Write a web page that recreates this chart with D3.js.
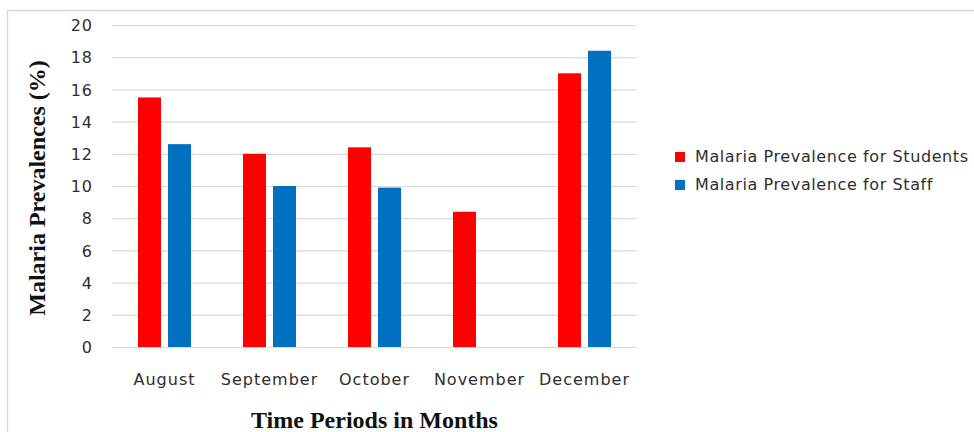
<!DOCTYPE html>
<html>
<head>
<meta charset="utf-8">
<script src="https://cdn.jsdelivr.net/npm/d3@7/dist/d3.min.js"></script>
<style>
  html, body { margin: 0; padding: 0; background: #fff; }
  svg { display: block; }
  .tick-label { font-family: "DejaVu Sans", Verdana, sans-serif; font-size: 16px; fill: #2e2e2e; letter-spacing: 1px; }
  .legend-label { font-family: "DejaVu Sans", Verdana, sans-serif; font-size: 16px; fill: #2e2e2e; letter-spacing: 0.6px; }
  .axis-title { font-family: "Liberation Serif", "Times New Roman", serif; font-size: 24px; font-weight: bold; fill: #111; }
</style>
</head>
<body>
<div class="page"></div>
<script>
var months = ["August", "September", "October", "November", "December"];
var studentValues = [15.5, 12.0, 12.4, 8.4, 17.0];
var staffValues = [12.6, 10.0, 9.9, null, 18.4];
var seriesNames = ["Malaria Prevalence for Students", "Malaria Prevalence for Staff"];
var seriesColors = ["#ff0000", "#0070c0"];
var yTicks = [0, 2, 4, 6, 8, 10, 12, 14, 16, 18, 20];

var w = 974, h = 432;
var plot = {left: 112, right: 637, top: 25, bottom: 347};

var svg = d3.select(".page").append("svg")
  .attr("xmlns", "http://www.w3.org/2000/svg")
  .attr("width", w)
  .attr("height", h);

// Chart area border, right and bottom edges run off the picture
svg.append("rect")
  .attr("x", 7.5)
  .attr("y", 10.5)
  .attr("width", w + 20)
  .attr("height", h + 20)
  .attr("fill", "none")
  .attr("stroke", "#d9d9d9")
  .attr("stroke-width", 1.5);

var y = d3.scaleLinear()
  .domain([0, 20])
  .range([plot.bottom, plot.top]);

var x0 = d3.scaleBand()
  .domain(months)
  .range([plot.left, plot.right])
  .paddingInner(0.495)
  .paddingOuter(0.2475);

var x1 = d3.scaleBand()
  .domain([0, 1])
  .range([0, x0.bandwidth()])
  .paddingInner(0.233);

// Gridlines and tick labels from an axis
var yAxis = svg.append("g")
  .attr("transform", "translate(" + plot.left + ",0)")
  .call(d3.axisLeft(y).tickValues(yTicks).tickSize(-(plot.right - plot.left)).tickPadding(19));

yAxis.select(".domain").remove();
yAxis.selectAll(".tick line")
  .attr("stroke", "#d9d9d9")
  .attr("stroke-width", 1.2);
yAxis.selectAll(".tick text")
  .attr("class", "tick-label")
  .attr("fill", null)
  .attr("dy", "0.36em");
yAxis.attr("font-size", null).attr("font-family", null);

// Bars, one group per month
var rows = months.map(function(m, i) {
  return {month: m, values: [studentValues[i], staffValues[i]]};
});

var groups = svg.selectAll("g.month")
  .data(rows)
  .enter()
  .append("g")
  .attr("class", "month")
  .attr("transform", function(d) { return "translate(" + x0(d.month) + ",0)"; });

groups.selectAll("rect")
  .data(function(d) {
    return d.values.map(function(v, k) { return {k: k, v: v}; })
      .filter(function(e) { return e.v != null; });
  })
  .enter()
  .append("rect")
  .attr("x", function(d) { return x1(d.k); })
  .attr("y", function(d) { return y(d.v); })
  .attr("width", x1.bandwidth())
  .attr("height", function(d) { return y(0) - y(d.v); })
  .attr("fill", function(d) { return seriesColors[d.k]; });

// Month labels
var xAxis = svg.append("g")
  .attr("transform", "translate(0," + plot.bottom + ")")
  .call(d3.axisBottom(x0).tickSize(0).tickPadding(0));

xAxis.select(".domain").remove();
xAxis.attr("font-size", null).attr("font-family", null);
xAxis.selectAll(".tick text")
  .attr("class", "tick-label")
  .attr("fill", null)
  .attr("dy", null)
  .attr("y", 38);

// Axis titles
svg.append("text")
  .attr("class", "axis-title")
  .attr("text-anchor", "middle")
  .attr("transform", "translate(45," + ((plot.top + plot.bottom) / 2 + 2) + ") rotate(-90)")
  .text("Malaria Prevalences (%)");

svg.append("text")
  .attr("class", "axis-title")
  .attr("text-anchor", "middle")
  .attr("x", (plot.left + plot.right) / 2)
  .attr("y", 428)
  .text("Time Periods in Months");

// Legend
var legend = svg.selectAll("g.legend")
  .data(seriesNames)
  .enter()
  .append("g")
  .attr("class", "legend")
  .attr("transform", function(d, i) { return "translate(675," + (152 + i * 28) + ")"; });

legend.append("rect")
  .attr("width", 10)
  .attr("height", 10)
  .attr("fill", function(d, i) { return seriesColors[i]; });

legend.append("text")
  .attr("class", "legend-label")
  .attr("x", 20)
  .attr("y", 10)
  .text(function(d) { return d; });
</script>
</body>
</html>
